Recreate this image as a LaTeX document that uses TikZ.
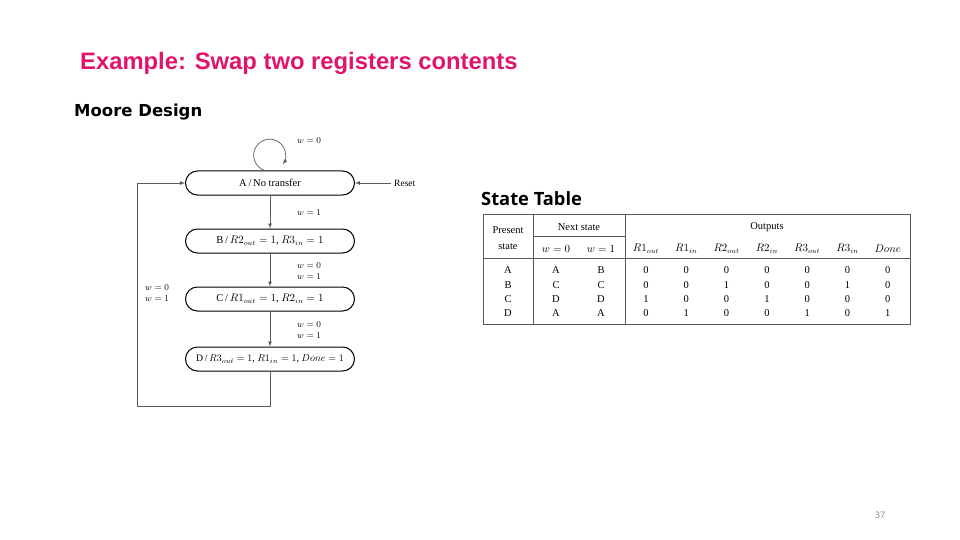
\documentclass[tikz,border=0pt]{standalone}
\usepackage{fontspec}
\setmainfont{Liberation Serif}
\newfontfamily\titlefont{Liberation Sans}
\newfontfamily\headfont{Open Sans}
\newfontfamily\mooreFont{DejaVu Sans}
\usetikzlibrary{arrows}
\definecolor{titlepink}{RGB}{224,20,108}
\definecolor{linegray}{RGB}{90,90,90}

\begin{document}
\begin{tikzpicture}[x=1pt,y=-1pt,>=latex,
	state/.style={draw, line width=1pt, rounded corners=12pt, minimum width=169pt, minimum height=24pt, inner sep=0pt, font=\fontsize{10.5}{12}\selectfont},
	lbl/.style={inner sep=1pt, align=left, font=\fontsize{9.5}{11}\selectfont},
	conn/.style={draw=linegray, line width=0.7pt},
	cell/.style={inner sep=0pt, font=\fontsize{10.5}{12}\selectfont}]
	\useasboundingbox (0,0) rectangle (960,540);
	
	% headings
	\node[anchor=base west, inner sep=0pt, text=titlepink, font=\titlefont\bfseries\fontsize{23.8}{28}\selectfont] (title) at (80,70) {Example: Swap two registers contents};
	\node[anchor=base west, inner sep=0pt, font=\mooreFont\bfseries\fontsize{16.5}{19}\selectfont] (moore) at (74,117) {Moore Design};
	\node[anchor=base west, inner sep=0pt, font=\headfont\bfseries\fontsize{18.3}{21}\selectfont] (stt) at (481,205) {State Table};
	\node[inner sep=0pt, text=gray, font=\headfont\fontsize{9}{11}\selectfont] (pagenum) at (880,515) {37};
	
	% states
	\node[state] (A) at (270,183) {A\,/\,No transfer};
	\node[state] (B) at (270,241) {B\,/\,$R2_{out}=1$, $R3_{in}=1$};
	\node[state] (C) at (270,299) {C\,/\,$R1_{out}=1$, $R2_{in}=1$};
	\node[state, font=\fontsize{9.8}{11}\selectfont] (D) at (270,359) {D\,/\,$R3_{out}=1$, $R1_{in}=1$, $Done=1$};
	
	\draw[conn,->] (A) -- (B);
	\draw[conn,->] (B) -- (C);
	\draw[conn,->] (C) -- (D);
	
	%\draw[conn,->] (A.north) .. controls +(-30,-40) and +(25,-40) .. (A.north);
	\draw[conn,->] ([xshift=-5pt]A.north) arc[start angle=107, end angle=395, radius=16];
	
	\coordinate (back) at (137,406);
	\draw[conn,->] (D.south) |- (back) |- (A.west);
	
	\node[cell, anchor=west, inner sep=3pt, font=\fontsize{9.5}{11}\selectfont] (reset) at (391,183) {Reset};
	\draw[conn,->] (reset.west) -- (A.east);
	
	\node[lbl] (wloop) at (309,141) {$w=0$};
	\node[lbl] (wab) at (309,213) {$w=1$};
	\node[lbl] (wbc) at (309,271) {$w=0$\\$w=1$};
	\node[lbl] (wcd) at (309,330) {$w=0$\\$w=1$};
	\node[lbl] (wda) at (157,293) {$w=0$\\$w=1$};
	
	% state table
	\draw[linegray, line width=0.7pt] (483,214) rectangle (910,324);
	\draw[linegray, line width=0.7pt] (533,214) -- (533,324);
	\draw[linegray, line width=0.7pt] (625,214) -- (625,324);
	\draw[linegray, line width=0.5pt] (533,236) -- (625,236);
	\draw[linegray, line width=0.9pt] (483,258) -- (910,258);
	
	\node[cell] (hps) at (508,230) {Present};
	\node[cell] (hst) at (508,247) {state};
	\node[cell] (hns) at (579,227) {Next state};
	\node[cell] (hout) at (767,227) {Outputs};
	\node[cell] (hw0) at (556,249) {$w=0$};
	\node[cell] (hw1) at (601,249) {$w=1$};
	\foreach \lab [count=\c] in {$R1_{out}$,$R1_{in}$,$R2_{out}$,$R2_{in}$,$R3_{out}$,$R3_{in}$,$Done$}
		\node[cell] (hout\c) at ({646+40.3*(\c-1)},249) {\lab};
	
	\foreach \ps/\na/\nb [count=\r] in {A/A/B, B/C/C, C/D/D, D/A/A} {
		\node[cell] (ps\r) at (508,{256+14.3*\r}) {\ps};
		\node[cell] (na\r) at (556,{256+14.3*\r}) {\na};
		\node[cell] (nb\r) at (601,{256+14.3*\r}) {\nb};
	}
	\foreach \vals [count=\r] in {{0,0,0,0,0,0,0},{0,0,1,0,0,1,0},{1,0,0,1,0,0,0},{0,1,0,0,1,0,1}}
		\foreach \v [count=\c] in \vals
			\node[cell] (o\r-\c) at ({646+40.3*(\c-1)},{256+14.3*\r}) {\v};
\end{tikzpicture}
\end{document}
